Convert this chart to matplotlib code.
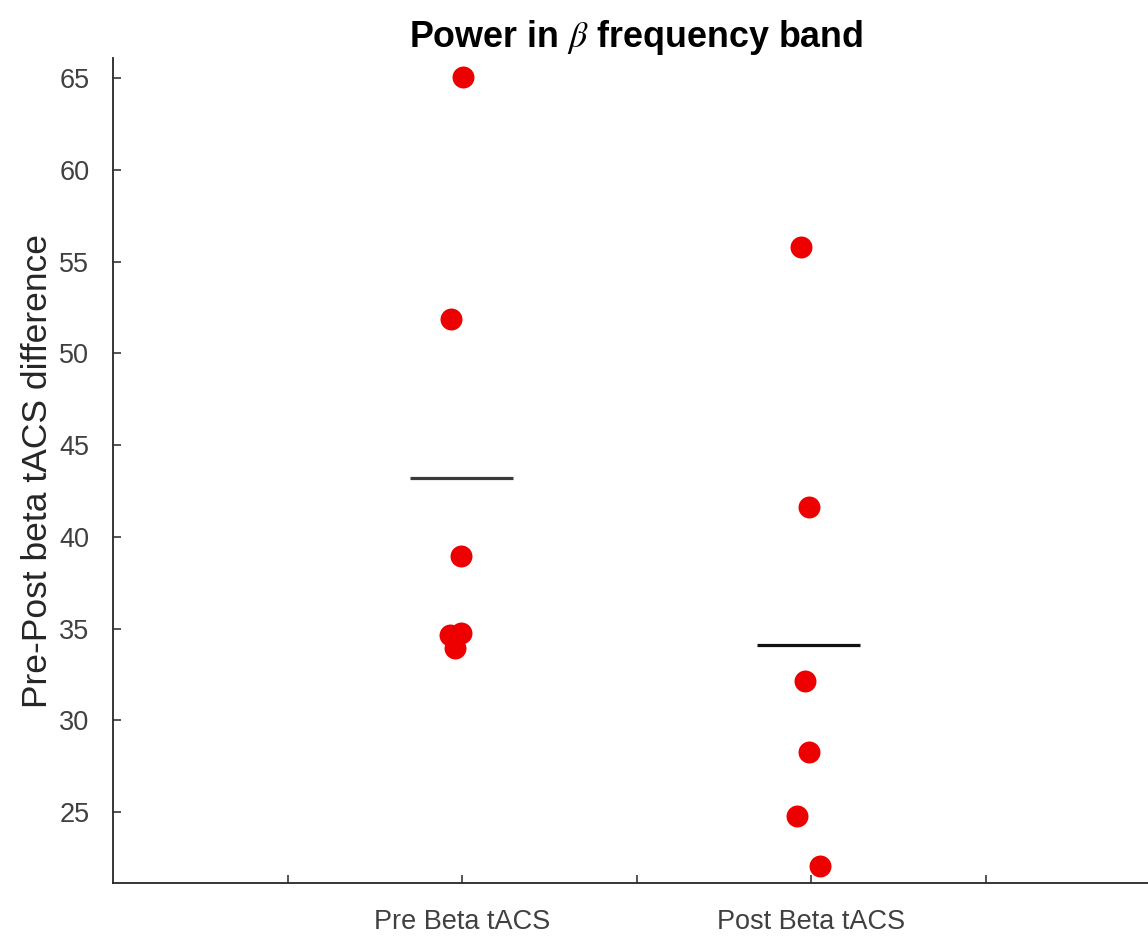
import matplotlib
matplotlib.use("Agg")
import matplotlib.pyplot as plt
import numpy as np

# Data
categories = ["Pre Beta tACS", "Post Beta tACS"]
pre_x = [1.003, 0.968, 0.997, 0.966, 0.997, 0.980]
pre_y = [65.05, 51.87, 38.95, 34.65, 34.75, 33.94]
post_x = [1.971, 1.994, 1.983, 1.994, 1.960, 2.026]
post_y = [55.79, 41.62, 32.14, 28.27, 24.78, 22.06]

plt.rcParams['font.family'] = ['Liberation Sans', 'DejaVu Sans']
plt.rcParams['mathtext.fontset'] = 'stix'

fig = plt.figure(figsize=(11.48, 9.36), dpi=100)
W, H = 1148, 936
left_px, right_px, top_px, bottom_px = 113, 1160, 58, 883
ax = fig.add_axes([left_px / W, (H - bottom_px) / H,
                   (right_px - left_px) / W, (bottom_px - top_px) / H])

red = '#ee0000'
ax.scatter(pre_x, pre_y, s=250, color=red, edgecolors=red, linewidths=0, zorder=3)
ax.scatter(post_x, post_y, s=250, color=red, edgecolors=red, linewidths=0, zorder=3)

pre_mean = np.mean(pre_y)
post_mean = np.mean(post_y)
ax.plot([0.85, 1.145], [pre_mean, pre_mean], color='#3a3a3a', lw=2.3, solid_capstyle='butt', zorder=2)
ax.plot([1.845, 2.14], [post_mean, post_mean], color='#111111', lw=2.3, solid_capstyle='butt', zorder=2)

ax.set_xlim(0, 3)
ax.set_ylim(21.13, 66.1)
ax.set_xticks([0.5, 1, 1.5, 2, 2.5])
ax.set_xticklabels(['', categories[0], '', categories[1], ''])
ax.set_yticks([25, 30, 35, 40, 45, 50, 55, 60, 65])

for s in ['top', 'right']:
    ax.spines[s].set_visible(False)
for s in ['left', 'bottom']:
    ax.spines[s].set_linewidth(1.3)
    ax.spines[s].set_color('#262626')

ax.tick_params(direction='in', length=6, width=1.1, colors='#262626',
               labelsize=19.5, labelcolor='#404040')
ax.tick_params(axis='x', pad=19)
ax.tick_params(axis='y', pad=17)

ax.set_ylabel('Pre-Post beta tACS difference', fontsize=25.5, color='#262626', labelpad=4)
ax.set_title(r'Power in $\beta$ frequency band', fontsize=25.8, fontweight='bold',
             color='black', pad=8)

fig.savefig('out.png', dpi=100)
